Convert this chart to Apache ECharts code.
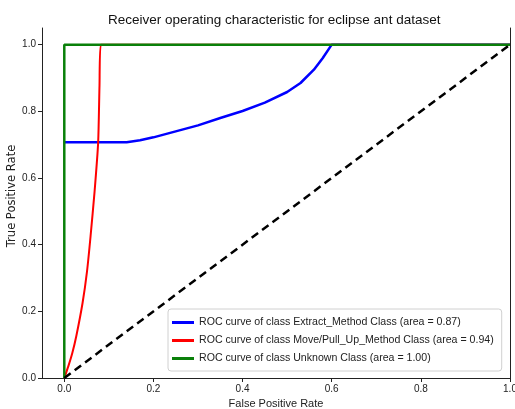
<!DOCTYPE html>
<html><head><meta charset="utf-8">
<script src="https://cdn.jsdelivr.net/npm/echarts@6/dist/echarts.min.js"></script>
<style>html,body{margin:0;padding:0;background:#fff}#c{width:515px;height:409px}</style>
</head><body><div id="c"></div>
<script>
const titleText = "Receiver operating characteristic for eclipse ant dataset";
const xTicks = [0.0, 0.2, 0.4, 0.6, 0.8, 1.0];
const yTicks = [0.0, 0.2, 0.4, 0.6, 0.8, 1.0];
const seriesNames = [
  "ROC curve of class Extract_Method Class (area = 0.87)",
  "ROC curve of class Move/Pull_Up_Method Class (area = 0.94)",
  "ROC curve of class Unknown Class (area = 1.00)"
];
const blueFpr = [0, 0.14, 0.17, 0.2, 0.25, 0.3, 0.35, 0.4, 0.45, 0.5, 0.53, 0.56, 0.58, 0.6, 1.0];
const blueTpr = [0.707, 0.707, 0.713, 0.722, 0.740, 0.758, 0.780, 0.801, 0.826, 0.858, 0.885, 0.925, 0.960, 1.0, 1.0];
const redFpr = [0, 0.009, 0.018, 0.027, 0.041, 0.051, 0.059, 0.068, 0.076, 0.079, 0.082, 1.0];
const redTpr = [0, 0.035, 0.075, 0.126, 0.225, 0.32, 0.426, 0.56, 0.707, 0.877, 1.0, 1.0];
const greenFpr = [0, 0, 1.0];
const greenTpr = [0, 1.0, 1.0];
const diagFpr = [0, 1];
const diagTpr = [0, 1];

const zip = (a, b) => a.map((v, i) => [v, b[i]]);
const font = "Liberation Sans, Arial, sans-serif";
const chart = echarts.init(document.getElementById('c'), null, {renderer: 'canvas'});
chart.setOption({
  animation: false,
  backgroundColor: '#fff',
  textStyle: {fontFamily: font},
  title: {text: titleText, left: 103, top: 8,
    textStyle: {fontSize: 13.5, fontWeight: 'normal', color: '#111', fontFamily: font}},
  grid: {left: 42, right: 5, top: 28, bottom: 31, outerBoundsMode: 'none', containLabel: false},
  legend: {
    orient: 'vertical', left: 168, top: 309,
    data: seriesNames, icon: 'rect', itemWidth: 22, itemHeight: 3, itemGap: 5,
    padding: [7, 8, 6, 4], backgroundColor: 'rgba(255,255,255,0.9)',
    borderColor: '#d0d0d0', borderWidth: 1, borderRadius: 3,
    textStyle: {fontSize: 10.6, color: '#222', lineHeight: 13, fontFamily: font}
  },
  xAxis: {
    type: 'value', min: -0.05, max: 1.0,
    name: 'False Positive Rate', nameLocation: 'middle', nameGap: 20, nameMoveOverlap: false,
    nameTextStyle: {fontSize: 11, color: '#222'},
    splitLine: {show: false},
    axisLine: {onZero: false, lineStyle: {color: '#222', width: 1}},
    axisTick: {show: true, length: 4, customValues: xTicks, lineStyle: {color: '#222'}},
    axisLabel: {customValues: xTicks, fontSize: 10, color: '#222', margin: 6,
      formatter: v => v.toFixed(1)}
  },
  yAxis: [{
    type: 'value', min: 0, max: 1.05,
    name: 'True Positive Rate', nameLocation: 'middle', nameGap: 24, nameRotate: 90, nameMoveOverlap: false,
    nameTextStyle: {fontSize: 11.5, color: '#222', fontFamily: 'DejaVu Sans', padding: [0, 0, 0, 14]},
    splitLine: {show: false},
    axisLine: {show: true, onZero: false, lineStyle: {color: '#222', width: 1}},
    axisTick: {show: true, length: 4, customValues: yTicks, lineStyle: {color: '#222'}},
    axisLabel: {customValues: yTicks, fontSize: 10, color: '#222', margin: 6,
      formatter: v => v.toFixed(1)}
  }, {
    type: 'value', min: 0, max: 1.05, position: 'right',
    splitLine: {show: false},
    axisLine: {show: true, onZero: false, lineStyle: {color: '#222', width: 1}},
    axisTick: {show: false}, axisLabel: {show: false}
  }],
  series: [
    {name: seriesNames[0], type: 'line', data: zip(blueFpr, blueTpr), smooth: false,
      showSymbol: false, color: '#0000ff', lineStyle: {width: 2.5, color: '#0000ff'}, z: 2},
    {name: seriesNames[1], type: 'line', data: zip(redFpr, redTpr), smooth: 0.2,
      showSymbol: false, color: '#ff0000', lineStyle: {width: 2, color: '#ff0000'}, z: 3},
    {name: seriesNames[2], type: 'line', data: zip(greenFpr, greenTpr),
      showSymbol: false, color: '#0a800a', lineStyle: {width: 2.5, color: '#0a800a'}, z: 4},
    {name: 'diag', type: 'line', data: zip(diagFpr, diagTpr),
      showSymbol: false, color: '#000', lineStyle: {width: 2.5, type: [8, 5], color: '#000'}, z: 5}
  ]
});
</script></body></html>
